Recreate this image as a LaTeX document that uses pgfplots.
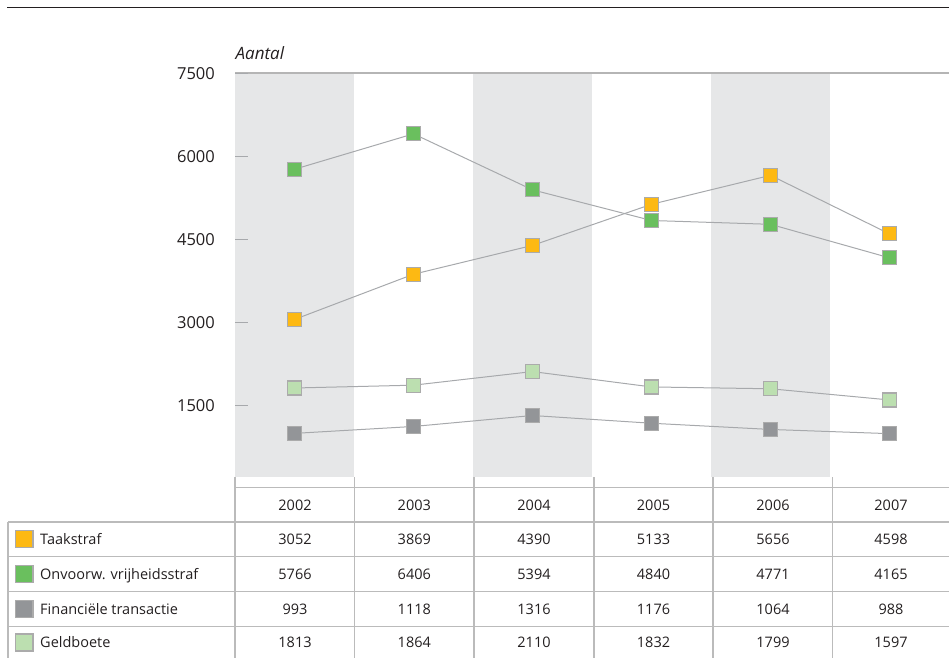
\documentclass[border=0pt]{standalone}
\usepackage{fontspec}
\setmainfont{Open Sans}
\usepackage{pgfplots}
\pgfplotsset{compat=1.18}
\definecolor{band}{HTML}{E6E7E8}
\definecolor{cOrange}{HTML}{FDB913}
\definecolor{cGreen}{HTML}{6ABF5E}
\definecolor{cGrey}{HTML}{939598}
\definecolor{cLight}{HTML}{BCDFB0}
\definecolor{lineg}{HTML}{A7A9AC}
\definecolor{rulec}{HTML}{B5B5B5}
\definecolor{mborder}{HTML}{ABABAB}
\definecolor{tabline}{HTML}{BBBBBB}
\definecolor{txt}{HTML}{231F20}
\begin{document}
\begin{tikzpicture}[x=1pt,y=1pt]
\useasboundingbox (0,0) rectangle (949,-658);
\draw[line width=1.2pt, txt] (7,-7.3) -- (949,-7.3);
\node[anchor=base west, inner sep=0pt, text=txt, font=\fontsize{17}{20}\selectfont\itshape] at (235.5,-59.5) {Aantal};
\begin{axis}[
  at={(235pt,-476.7pt)}, anchor=south west,
  scale only axis, width=714pt, height=403.4pt,
  xmin=-0.5, xmax=5.5, ymin=210, ymax=7500,
  axis line style={draw=none},
  axis on top=true,
  xtick=\empty,
  ytick={1500,3000,4500,6000,7500},
  yticklabels={1500,3000,4500,6000,7500},
  ytick pos=left,
  tick align=inside,
  major tick length=13pt,
  tick style={draw=lineg, line width=1pt},
  yticklabel style={anchor=east, inner sep=0pt, xshift=-20pt, text=txt, font=\fontsize{16.5}{20}\selectfont},
  clip=false,
]
\fill[band] (axis cs:-0.5,210) rectangle (axis cs:0.5,7500);
\fill[band] (axis cs:1.5,210) rectangle (axis cs:2.5,7500);
\fill[band] (axis cs:3.5,210) rectangle (axis cs:4.5,7500);
\addplot[lineg, line width=1pt, mark=square*, mark size=7pt, mark options={draw=mborder, fill=cOrange, line width=1.2pt}]
  coordinates {(0,3052) (1,3869) (2,4390) (3,5133) (4,5656) (5,4598)};
\addplot[lineg, line width=1pt, mark=square*, mark size=7pt, mark options={draw=mborder, fill=cGreen, line width=1.2pt}]
  coordinates {(0,5766) (1,6406) (2,5394) (3,4840) (4,4771) (5,4165)};
\addplot[lineg, line width=1pt, mark=square*, mark size=7pt, mark options={draw=mborder, fill=cGrey, line width=1.2pt}]
  coordinates {(0,993) (1,1118) (2,1316) (3,1176) (4,1064) (5,988)};
\addplot[lineg, line width=1pt, mark=square*, mark size=7pt, mark options={draw=mborder, fill=cLight, line width=1.2pt}]
  coordinates {(0,1813) (1,1864) (2,2110) (3,1832) (4,1799) (5,1597)};
\draw[rulec, line width=2pt] (axis cs:-0.5,7500) -- (axis cs:5.5,7500);
\end{axis}
% table
\foreach \xx in {235,354.7,474,594,713,832.7} {
  \draw[tabline, line width=1.5pt] (\xx,-477) -- (\xx,-658);
}
\draw[tabline, line width=1.5pt] (8,-522) -- (8,-658);
\draw[tabline, line width=1.5pt] (235,-487.7) -- (949,-487.7);
\foreach \yy in {522,556.7,591.7,626.7} {
  \draw[tabline, line width=1.5pt] (8,-\yy) -- (949,-\yy);
}
\tikzset{tt/.style={anchor=base, inner sep=0pt, text=txt, font=\fontsize{14.5}{17}\selectfont}}
\foreach \cx/\lab in {295/2002,414.3/2003,534/2004,653.5/2005,773/2006,891/2007} {
  \node[tt] at (\cx,-510.3) {\lab};
}
\foreach \cx/\a/\b/\c/\d in {295/3052/5766/993/1813, 414.3/3869/6406/1118/1864, 534/4390/5394/1316/2110, 653.5/5133/4840/1176/1832, 773/5656/4771/1064/1799, 891/4598/4165/988/1597} {
  \node[tt] at (\cx,-544.6) {\a};
  \node[tt] at (\cx,-579.5) {\b};
  \node[tt] at (\cx,-614.5) {\c};
  \node[tt] at (\cx,-647.8) {\d};
}
\foreach \cy/\col/\lab in {539.3/cOrange/Taakstraf, 574.2/cGreen/{Onvoorw. vrijheidsstraf}, 609.2/cGrey/{Financiële transactie}, 642.5/cLight/Geldboete} {
  \filldraw[fill=\col, draw=mborder, line width=1.2pt] (15.5,-\cy+8.5) rectangle (33,-\cy-8.5);
  \node[tt, anchor=base west] at (40,-\cy-5.3) {\lab};
}
\end{tikzpicture}
\end{document}
